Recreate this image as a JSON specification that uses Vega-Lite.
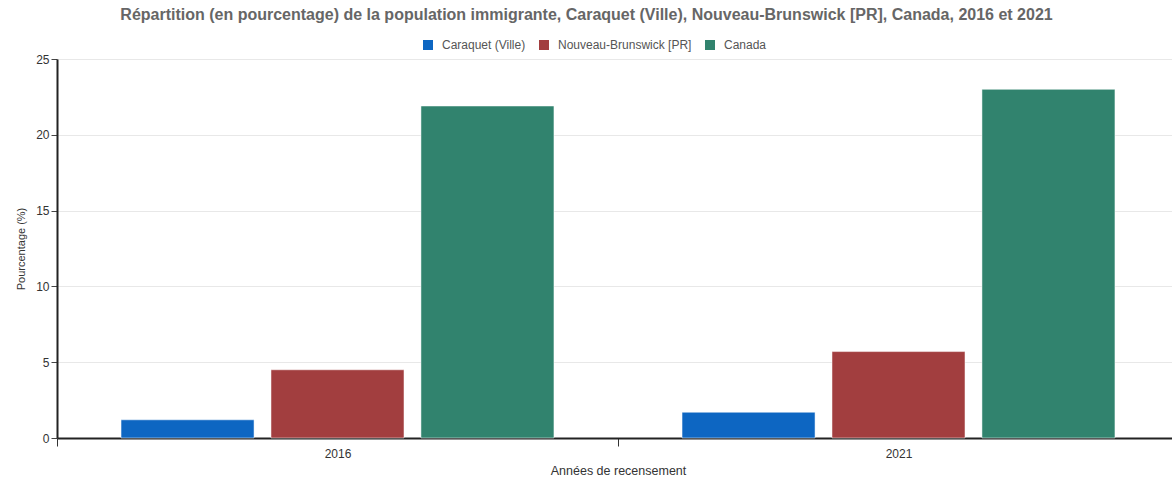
{
  "$schema": "https://vega.github.io/schema/vega-lite/v6.json",
  "width": 1115,
  "height": 379,
  "autosize": {"type": "none"},
  "padding": {"left": 57, "top": 59, "right": 0, "bottom": 42},
  "background": "white",
  "title": {
    "text": "Répartition (en pourcentage) de la population immigrante, Caraquet (Ville), Nouveau-Brunswick [PR], Canada, 2016 et 2021",
    "font": "Liberation Sans",
    "fontSize": 16,
    "fontWeight": "bold",
    "color": "#666666",
    "anchor": "middle",
    "dx": -28,
    "offset": 16
  },
  "data": {
    "values": [
      {"annee": "2016", "geo": "Caraquet (Ville)", "pct": 1.2},
      {"annee": "2016", "geo": "Nouveau-Brunswick [PR]", "pct": 4.5},
      {"annee": "2016", "geo": "Canada", "pct": 21.9},
      {"annee": "2021", "geo": "Caraquet (Ville)", "pct": 1.7},
      {"annee": "2021", "geo": "Nouveau-Brunswick [PR]", "pct": 5.7},
      {"annee": "2021", "geo": "Canada", "pct": 23.0}
    ]
  },
  "mark": {"type": "bar", "stroke": "#ffffff", "strokeOpacity": 0.5, "strokeWidth": 1},
  "encoding": {
    "x": {
      "field": "annee",
      "type": "nominal",
      "scale": {"range": [0, 1122], "paddingInner": 0, "paddingOuter": 0},
      "axis": {
        "title": "Années de recensement",
        "labelAngle": 0,
        "tickBand": "extent",
        "tickSize": 8,
        "tickColor": "#333333",
        "domainColor": "#222222",
        "domainWidth": 2,
        "labelFont": "Liberation Sans",
        "labelFontSize": 12,
        "labelColor": "#333333",
        "labelPadding": 2,
        "titleFont": "Liberation Sans",
        "titleFontSize": 12.5,
        "titleFontWeight": "normal",
        "titleColor": "#333333",
        "titlePadding": 5
      }
    },
    "xOffset": {
      "field": "geo",
      "type": "nominal",
      "sort": ["Caraquet (Ville)", "Nouveau-Brunswick [PR]", "Canada"],
      "scale": {"paddingInner": 0.113, "paddingOuter": 0.427}
    },
    "y": {
      "field": "pct",
      "type": "quantitative",
      "scale": {"domain": [0, 25]},
      "axis": {
        "title": "Pourcentage (%)",
        "values": [0, 5, 10, 15, 20, 25],
        "gridColor": "#e8e8e8",
        "domainColor": "#222222",
        "domainWidth": 2,
        "tickColor": "#444444",
        "tickSize": 6,
        "labelFont": "Liberation Sans",
        "labelFontSize": 12,
        "labelColor": "#333333",
        "titleFont": "Liberation Sans",
        "titleFontSize": 11,
        "titleFontWeight": "normal",
        "titleColor": "#333333",
        "titlePadding": 9
      }
    },
    "color": {
      "field": "geo",
      "type": "nominal",
      "sort": ["Caraquet (Ville)", "Nouveau-Brunswick [PR]", "Canada"],
      "scale": {
        "domain": ["Caraquet (Ville)", "Nouveau-Brunswick [PR]", "Canada"],
        "range": ["#0d66c2", "#a23e3f", "#31836e"]
      },
      "legend": {
        "title": null,
        "orient": "none",
        "direction": "horizontal",
        "legendX": 365,
        "legendY": -20,
        "symbolType": "square",
        "symbolSize": 100,
        "symbolStrokeWidth": 0,
        "labelFont": "Liberation Sans",
        "labelFontSize": 12,
        "labelColor": "#555555",
        "labelOffset": 8,
        "columnPadding": 12
      }
    }
  },
  "config": {
    "view": {"stroke": null},
    "axisX": {"grid": false}
  }
}
